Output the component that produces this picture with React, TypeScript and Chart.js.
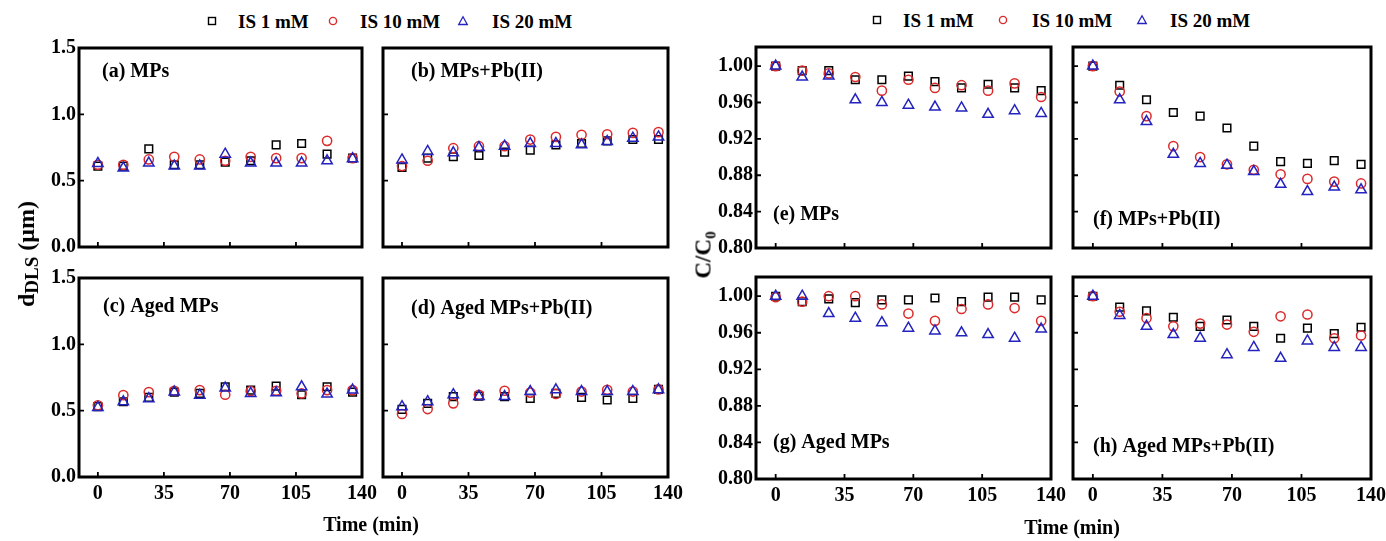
import React, { useEffect, useRef } from 'react';
import { Chart, registerables } from 'chart.js';

Chart.register(...registerables);

// Sampling times (min)
const time = [0, 13.5, 27, 40.5, 54, 67.5, 81, 94.5, 108, 121.5, 135];

const seriesNames = ['IS 1 mM', 'IS 10 mM', 'IS 20 mM'];

// Hydrodynamic diameter d_DLS (µm)
const dlsMPs1 = [0.61, 0.61, 0.74, 0.62, 0.62, 0.64, 0.65, 0.77, 0.78, 0.70, 0.67];
const dlsMPs10 = [0.62, 0.62, 0.66, 0.68, 0.66, 0.65, 0.68, 0.67, 0.67, 0.80, 0.67];
const dlsMPs20 = [0.63, 0.595, 0.633, 0.61, 0.61, 0.70, 0.633, 0.633, 0.633, 0.65, 0.666];

const dlsMPsPb1 = [0.60, 0.67, 0.68, 0.69, 0.715, 0.73, 0.77, 0.78, 0.80, 0.81, 0.81];
const dlsMPsPb10 = [0.61, 0.65, 0.745, 0.76, 0.76, 0.81, 0.83, 0.846, 0.85, 0.86, 0.866];
const dlsMPsPb20 = [0.656, 0.72, 0.71, 0.75, 0.76, 0.78, 0.78, 0.77, 0.795, 0.82, 0.83];

const dlsAged1 = [0.53, 0.567, 0.60, 0.64, 0.63, 0.68, 0.655, 0.685, 0.62, 0.68, 0.64];
const dlsAged10 = [0.54, 0.617, 0.64, 0.65, 0.655, 0.62, 0.647, 0.65, 0.63, 0.655, 0.655];
const dlsAged20 = [0.524, 0.567, 0.59, 0.64, 0.617, 0.67, 0.63, 0.635, 0.68, 0.625, 0.655];

const dlsAgedPb1 = [0.51, 0.555, 0.606, 0.61, 0.606, 0.593, 0.63, 0.60, 0.58, 0.593, 0.66];
const dlsAgedPb10 = [0.475, 0.512, 0.555, 0.62, 0.65, 0.636, 0.626, 0.644, 0.657, 0.644, 0.66];
const dlsAgedPb20 = [0.53, 0.568, 0.62, 0.606, 0.606, 0.644, 0.657, 0.644, 0.644, 0.644, 0.657];

// Relative concentration C/C0
const ccMPs1 = [1.0, 0.995, 0.995, 0.985, 0.985, 0.989, 0.983, 0.976, 0.98, 0.976, 0.973];
const ccMPs10 = [1.0, 0.995, 0.992, 0.988, 0.973, 0.985, 0.976, 0.979, 0.973, 0.981, 0.966];
const ccMPs20 = [1.0, 0.988, 0.989, 0.963, 0.96, 0.957, 0.955, 0.954, 0.947, 0.951, 0.948];

const ccMPsPb1 = [1.0, 0.979, 0.963, 0.949, 0.945, 0.932, 0.912, 0.895, 0.893, 0.896, 0.892];
const ccMPsPb10 = [1.0, 0.972, 0.945, 0.912, 0.9, 0.892, 0.886, 0.881, 0.876, 0.873, 0.871];
const ccMPsPb20 = [1.0, 0.963, 0.939, 0.903, 0.893, 0.891, 0.884, 0.87, 0.862, 0.867, 0.864];

const ccAged1 = [1.0, 0.994, 0.997, 0.993, 0.996, 0.996, 0.998, 0.994, 0.999, 0.999, 0.996];
const ccAged10 = [0.999, 0.994, 1.0, 1.0, 0.991, 0.981, 0.973, 0.986, 0.991, 0.987, 0.973];
const ccAged20 = [1.0, 1.0, 0.981, 0.976, 0.971, 0.965, 0.962, 0.96, 0.958, 0.954, 0.964];

const ccAgedPb1 = [1.0, 0.988, 0.984, 0.977, 0.967, 0.974, 0.967, 0.954, 0.965, 0.959, 0.966];
const ccAgedPb10 = [1.0, 0.983, 0.976, 0.967, 0.97, 0.969, 0.961, 0.978, 0.98, 0.954, 0.957];
const ccAgedPb20 = [1.0, 0.979, 0.967, 0.958, 0.954, 0.936, 0.944, 0.932, 0.951, 0.944, 0.944];

// Tick values
const timeTicks = [0, 35, 70, 105, 140];
const dlsTicks = [0, 0.5, 1.0, 1.5];
const ccTicks = [0.8, 0.84, 0.88, 0.92, 0.96, 1.0];

const SERIF = '"Liberation Serif", "Times New Roman", serif';

const MARKERS = [
  { style: 'rect', color: '#000000', radius: 5.4 },
  { style: 'circle', color: '#dc2a2a', radius: 4.6 },
  { style: 'triangle', color: '#2323c0', radius: 6.0 },
];

// Canvas margins around each plot frame
const ML = 62;
const MR = 22;
const MT = 12;
const MB = 34;

type Box = { l: number; t: number; r: number; b: number };
type PanelDef = {
  box: Box;
  series: number[][];
  kind: 'dls' | 'cc';
  showY: boolean;
  showX: boolean;
  label: string;
  anchor: 'top' | 'bottom';
  dx: number;
  dy: number;
};

const AXES = {
  dls: { min: 0, max: 1.5, ticks: dlsTicks, digits: 1 },
  cc: { min: 0.8, max: 1.021, ticks: ccTicks, digits: 2 },
};

const panels: PanelDef[] = [
  { box: { l: 79, t: 48, r: 362, b: 247 }, series: [dlsMPs1, dlsMPs10, dlsMPs20], kind: 'dls', showY: true, showX: false, label: '(a) MPs', anchor: 'top', dx: 23, dy: 24 },
  { box: { l: 383, t: 48, r: 668, b: 247 }, series: [dlsMPsPb1, dlsMPsPb10, dlsMPsPb20], kind: 'dls', showY: false, showX: false, label: '(b) MPs+Pb(II)', anchor: 'top', dx: 28, dy: 24 },
  { box: { l: 79, t: 278, r: 362, b: 477 }, series: [dlsAged1, dlsAged10, dlsAged20], kind: 'dls', showY: true, showX: true, label: '(c) Aged MPs', anchor: 'top', dx: 24, dy: 29 },
  { box: { l: 383, t: 278, r: 668, b: 477 }, series: [dlsAgedPb1, dlsAgedPb10, dlsAgedPb20], kind: 'dls', showY: false, showX: true, label: '(d) Aged MPs+Pb(II)', anchor: 'top', dx: 28, dy: 31 },
  { box: { l: 756, t: 47, r: 1051, b: 248 }, series: [ccMPs1, ccMPs10, ccMPs20], kind: 'cc', showY: true, showX: false, label: '(e) MPs', anchor: 'bottom', dx: 17, dy: 33 },
  { box: { l: 1073, t: 47, r: 1371, b: 248 }, series: [ccMPsPb1, ccMPsPb10, ccMPsPb20], kind: 'cc', showY: false, showX: false, label: '(f) MPs+Pb(II)', anchor: 'bottom', dx: 20, dy: 28 },
  { box: { l: 756, t: 277, r: 1051, b: 479 }, series: [ccAged1, ccAged10, ccAged20], kind: 'cc', showY: true, showX: true, label: '(g) Aged MPs', anchor: 'bottom', dx: 17, dy: 36 },
  { box: { l: 1073, t: 277, r: 1371, b: 479 }, series: [ccAgedPb1, ccAgedPb10, ccAgedPb20], kind: 'cc', showY: false, showX: true, label: '(h) Aged MPs+Pb(II)', anchor: 'bottom', dx: 20, dy: 32 },
];

// Thick box frame, inward tick marks and the panel caption
const framePlugin = {
  id: 'panelFrame',
  afterDraw(chart: any, _args: any, opts: any) {
    const { ctx, chartArea: a, scales } = chart;
    ctx.save();
    ctx.strokeStyle = '#000';
    ctx.lineWidth = 1.8;
    ctx.beginPath();
    scales.x.ticks.forEach((t: any) => {
      const px = scales.x.getPixelForValue(t.value);
      if (px > a.left + 3 && px < a.right - 3) {
        ctx.moveTo(px, a.bottom);
        ctx.lineTo(px, a.bottom - 5);
      }
    });
    scales.y.ticks.forEach((t: any) => {
      const py = scales.y.getPixelForValue(t.value);
      if (py > a.top + 3 && py < a.bottom - 3) {
        ctx.moveTo(a.left, py);
        ctx.lineTo(a.left + 5, py);
      }
    });
    ctx.stroke();
    ctx.lineWidth = 3;
    ctx.strokeRect(a.left, a.top, a.right - a.left, a.bottom - a.top);
    ctx.fillStyle = '#000';
    ctx.font = `bold 20px ${SERIF}`;
    ctx.textAlign = 'left';
    ctx.textBaseline = 'middle';
    const y = opts.anchor === 'top' ? a.top + opts.dy : a.bottom - opts.dy;
    ctx.fillText(opts.text, a.left + opts.dx, y);
    ctx.restore();
  },
};

function Panel({ p }: { p: PanelDef }) {
  const ref = useRef<HTMLCanvasElement>(null);
  const w = p.box.r - p.box.l + ML + MR;
  const h = p.box.b - p.box.t + MT + MB;

  useEffect(() => {
    const ax = AXES[p.kind];
    const tickFont = { family: SERIF, size: 20, weight: 'bold' as const };
    const chart = new Chart(ref.current as HTMLCanvasElement, {
      type: 'scatter',
      data: {
        datasets: p.series.map((vals, i) => ({
          label: seriesNames[i],
          data: time.map((t, k) => ({ x: t, y: vals[k] })),
          pointStyle: MARKERS[i].style as any,
          pointRadius: MARKERS[i].radius,
          pointHoverRadius: MARKERS[i].radius,
          pointBorderColor: MARKERS[i].color,
          pointBackgroundColor: 'rgba(0,0,0,0)',
          pointBorderWidth: 1.5,
          showLine: false,
          order: 2 - i,
        })),
      },
      options: {
        responsive: false,
        animation: false,
        devicePixelRatio: 1,
        layout: { padding: { top: MT, right: MR, left: 0, bottom: 0 } },
        plugins: {
          legend: { display: false },
          tooltip: { enabled: false },
          panelFrame: { text: p.label, anchor: p.anchor, dx: p.dx, dy: p.dy },
        } as any,
        scales: {
          x: {
            type: 'linear',
            min: -10,
            max: 140,
            grid: { display: false, drawTicks: false },
            border: { display: false },
            afterBuildTicks: (s: any) => {
              s.ticks = timeTicks.map((v) => ({ value: v }));
            },
            afterFit: (s: any) => {
              s.height = MB;
              s.paddingLeft = 0;
              s.paddingRight = 0;
            },
            ticks: {
              display: p.showX,
              padding: 5,
              color: '#000',
              font: tickFont,
              autoSkip: false,
              maxRotation: 0,
              callback: (v: any) => String(v),
            },
          },
          y: {
            type: 'linear',
            min: ax.min,
            max: ax.max,
            grid: { display: false, drawTicks: false },
            border: { display: false },
            afterBuildTicks: (s: any) => {
              s.ticks = ax.ticks.map((v) => ({ value: v }));
            },
            afterFit: (s: any) => {
              s.width = ML;
              s.paddingTop = 0;
              s.paddingBottom = 0;
            },
            ticks: {
              display: p.showY,
              padding: 3,
              color: '#000',
              font: tickFont,
              autoSkip: false,
              callback: (v: any) => Number(v).toFixed(ax.digits),
            },
          },
        },
      },
      plugins: [framePlugin],
    });
    return () => chart.destroy();
  }, [p]);

  return (
    <canvas
      ref={ref}
      width={w}
      height={h}
      style={{ position: 'absolute', left: p.box.l - ML, top: p.box.t - MT, width: w, height: h }}
    />
  );
}

function LegendMarker({ i }: { i: number }) {
  const c = MARKERS[i].color;
  return (
    <svg width={12} height={12} viewBox="0 0 12 12" style={{ display: 'block' }}>
      {i === 0 && <rect x={2.5} y={2.5} width={7} height={7} fill="none" stroke={c} strokeWidth={1.4} />}
      {i === 1 && <circle cx={6} cy={6} r={3.6} fill="none" stroke={c} strokeWidth={1.4} />}
      {i === 2 && <polygon points="6,1.8 10.3,9.5 1.7,9.5" fill="none" stroke={c} strokeWidth={1.3} />}
    </svg>
  );
}

function Legend({ markerX, textX, y }: { markerX: number[]; textX: number[]; y: number }) {
  return (
    <>
      {seriesNames.map((name, i) => (
        <React.Fragment key={name}>
          <div style={{ position: 'absolute', left: markerX[i] - 6, top: y - 6 }}>
            <LegendMarker i={i} />
          </div>
          <div
            style={{
              position: 'absolute',
              left: textX[i],
              top: y,
              transform: 'translateY(-50%)',
              font: `bold 19px ${SERIF}`,
              whiteSpace: 'nowrap',
              lineHeight: 1,
            }}
          >
            {name}
          </div>
        </React.Fragment>
      ))}
    </>
  );
}

const titleStyle: React.CSSProperties = {
  position: 'absolute',
  font: `bold 20px ${SERIF}`,
  whiteSpace: 'nowrap',
  transform: 'translate(-50%, -50%)',
  lineHeight: 1,
};

export default function App() {
  return (
    <div
      style={{
        position: 'absolute',
        left: 0,
        top: 0,
        width: 1386,
        height: 541,
        background: '#fff',
        color: '#000',
        overflow: 'hidden',
      }}
    >
      <Legend markerX={[212, 333, 463]} textX={[238, 360, 492]} y={21} />
      <Legend markerX={[877, 1003, 1142]} textX={[903, 1032, 1170]} y={20} />

      {panels.map((p) => (
        <Panel key={p.label} p={p} />
      ))}

      <div style={{ ...titleStyle, left: 371, top: 524 }}>Time (min)</div>
      <div style={{ ...titleStyle, left: 1072, top: 527 }}>Time (min)</div>

      <div
        style={{
          ...titleStyle,
          font: `bold 24px ${SERIF}`,
          left: 26,
          top: 254,
          transform: 'translate(-50%, -50%) rotate(-90deg)',
        }}
      >
        d<span style={{ fontSize: 19, position: 'relative', top: 4 }}>DLS</span> (μm)
      </div>
      <div
        style={{
          ...titleStyle,
          font: `bold 23px ${SERIF}`,
          left: 703,
          top: 255,
          transform: 'translate(-50%, -50%) rotate(-90deg)',
        }}
      >
        C/C<span style={{ fontSize: 15, position: 'relative', top: 5 }}>0</span>
      </div>
    </div>
  );
}
